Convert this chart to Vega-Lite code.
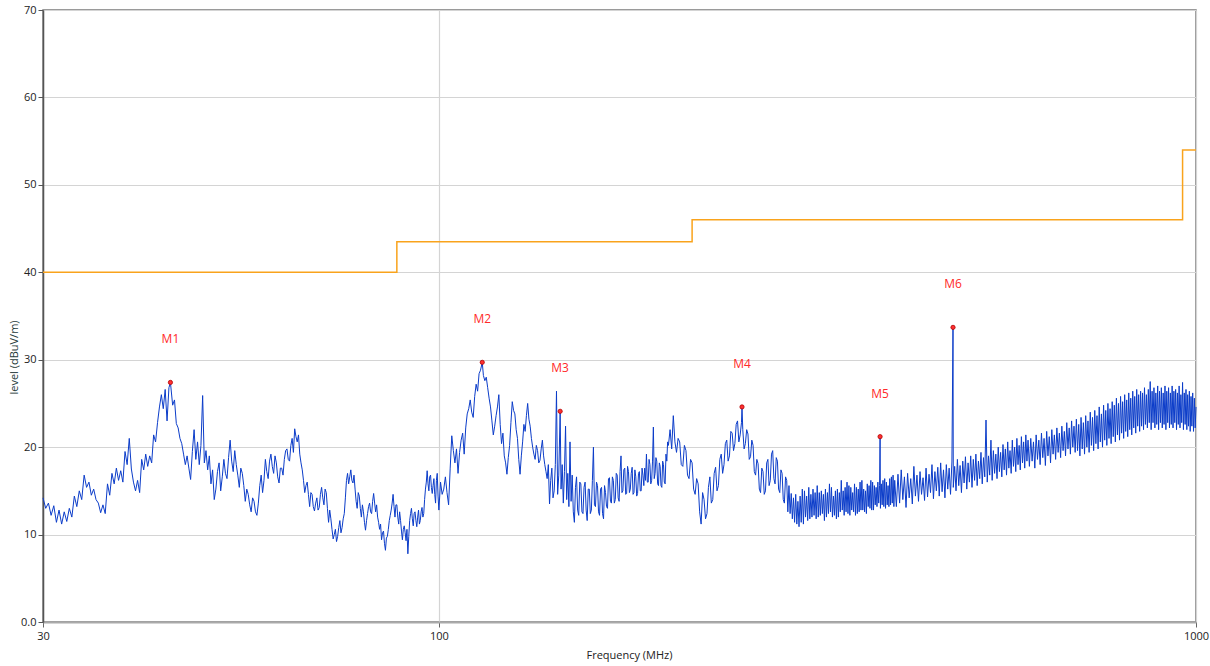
{
  "$schema": "https://vega.github.io/schema/vega-lite/v6.json",
  "width": 1153,
  "height": 612,
  "autosize": {"type": "none"},
  "padding": {"left": 43, "top": 10, "right": 14, "bottom": 44},
  "background": "#ffffff",
  "config": {
    "view": {"stroke": "#7a7a7a", "strokeWidth": 1.5},
    "font": "Open Sans"
  },
  "datasets": {
    "limit": [
      {"f": 30, "v": 40},
      {"f": 88, "v": 43.5},
      {"f": 216, "v": 46},
      {"f": 960, "v": 54},
      {"f": 1000, "v": 54}
    ],
    "markers": [
      {"f": 44.2, "v": 27.4, "m": "M1"},
      {"f": 114.1, "v": 29.7, "m": "M2"},
      {"f": 144.6, "v": 24.1, "m": "M3"},
      {"f": 251.4, "v": 24.6, "m": "M4"},
      {"f": 382.6, "v": 21.2, "m": "M5"},
      {"f": 477.6, "v": 33.7, "m": "M6"}
    ],
    "trace": [
      {"f":30,"v":14.2},{"f":30.25,"v":13.0},{"f":30.5,"v":13.6},{"f":30.75,"v":12.2},{"f":31,"v":13.3},{"f":31.25,"v":11.4},{"f":31.5,"v":12.8},{"f":31.75,"v":11.2},
      {"f":32,"v":12.6},{"f":32.25,"v":11.5},{"f":32.5,"v":13.0},{"f":32.75,"v":12.0},{"f":33,"v":14.4},{"f":33.25,"v":13.2},{"f":33.5,"v":15.0},{"f":33.75,"v":14.0},
      {"f":34,"v":16.8},{"f":34.25,"v":15.4},{"f":34.5,"v":16.0},{"f":34.75,"v":14.5},{"f":35,"v":15.2},{"f":35.25,"v":14.0},{"f":35.5,"v":13.6},{"f":35.75,"v":12.5},
      {"f":36,"v":13.4},{"f":36.25,"v":12.4},{"f":36.5,"v":15.8},{"f":36.75,"v":14.5},{"f":37,"v":17.0},{"f":37.25,"v":15.8},{"f":37.5,"v":17.6},{"f":37.75,"v":16.2},
      {"f":38,"v":17.3},{"f":38.25,"v":16.0},{"f":38.5,"v":19.5},{"f":38.75,"v":18.0},{"f":39,"v":21.0},{"f":39.25,"v":17.5},{"f":39.5,"v":16.0},{"f":39.75,"v":15.0},
      {"f":40,"v":16.2},{"f":40.25,"v":14.8},{"f":40.5,"v":18.6},{"f":40.75,"v":17.4},{"f":41,"v":19.2},{"f":41.25,"v":17.8},{"f":41.5,"v":19.0},{"f":41.75,"v":18.2},
      {"f":42,"v":21.4},{"f":42.25,"v":20.6},{"f":42.5,"v":22.8},{"f":42.75,"v":24.6},{"f":43,"v":26.0},{"f":43.25,"v":24.4},{"f":43.5,"v":26.6},{"f":43.75,"v":23.0},
      {"f":44,"v":26.8},{"f":44.2,"v":27.4},{"f":44.5,"v":24.8},{"f":44.75,"v":25.4},{"f":45,"v":22.7},{"f":45.25,"v":22.2},{"f":45.5,"v":21.0},{"f":45.75,"v":20.4},
      {"f":46,"v":19.2},{"f":46.25,"v":18.0},{"f":46.5,"v":19.0},{"f":46.75,"v":17.6},{"f":47,"v":16.3},{"f":47.25,"v":19.5},{"f":47.5,"v":22.0},{"f":47.75,"v":18.6},
      {"f":48,"v":20.6},{"f":48.25,"v":18.0},{"f":48.5,"v":20.2},{"f":48.75,"v":25.9},{"f":49,"v":18.2},{"f":49.25,"v":19.6},{"f":49.5,"v":17.4},{"f":49.75,"v":19.0},
      {"f":50,"v":15.8},{"f":50.25,"v":17.4},{"f":50.5,"v":14.0},{"f":50.75,"v":15.2},{"f":51,"v":17.2},{"f":51.25,"v":18.2},{"f":51.5,"v":15.0},{"f":51.75,"v":16.6},
      {"f":52,"v":18.6},{"f":52.25,"v":17.0},{"f":52.5,"v":16.4},{"f":52.75,"v":18.8},{"f":53,"v":20.8},{"f":53.25,"v":18.4},{"f":53.5,"v":17.2},{"f":53.75,"v":19.6},
      {"f":54,"v":18.0},{"f":54.25,"v":16.8},{"f":54.5,"v":15.4},{"f":54.75,"v":17.6},{"f":55,"v":17.0},{"f":55.25,"v":15.6},{"f":55.5,"v":13.8},{"f":55.75,"v":15.2},
      {"f":56,"v":14.6},{"f":56.25,"v":13.4},{"f":56.5,"v":12.6},{"f":56.75,"v":14.2},{"f":57,"v":13.8},{"f":57.25,"v":12.6},{"f":57.5,"v":12.2},{"f":57.75,"v":13.6},
      {"f":58,"v":15.6},{"f":58.25,"v":16.8},{"f":58.5,"v":14.8},{"f":58.75,"v":16.2},{"f":59,"v":18.6},{"f":59.25,"v":17.2},{"f":59.5,"v":16.4},{"f":59.75,"v":18.4},
      {"f":60,"v":19.2},{"f":60.25,"v":17.8},{"f":60.5,"v":17.0},{"f":60.75,"v":19.0},{"f":61,"v":18.2},{"f":61.25,"v":16.6},{"f":61.5,"v":15.9},{"f":61.75,"v":17.6},
      {"f":62,"v":17.6},{"f":62.25,"v":16.8},{"f":62.5,"v":18.6},{"f":62.75,"v":19.6},{"f":63,"v":19.8},{"f":63.25,"v":18.6},{"f":63.5,"v":18.4},{"f":63.75,"v":20.2},
      {"f":64,"v":21.0},{"f":64.25,"v":19.4},{"f":64.5,"v":22.1},{"f":64.75,"v":21.2},{"f":65,"v":20.6},{"f":65.25,"v":21.4},{"f":65.5,"v":19.2},{"f":65.75,"v":18.2},
      {"f":66,"v":17.4},{"f":66.25,"v":16.2},{"f":66.5,"v":14.8},{"f":66.75,"v":15.6},{"f":67,"v":16.0},{"f":67.25,"v":14.6},{"f":67.5,"v":13.2},{"f":67.75,"v":14.8},
      {"f":68,"v":14.6},{"f":68.25,"v":13.2},{"f":68.5,"v":12.7},{"f":68.75,"v":13.6},{"f":69,"v":14.2},{"f":69.25,"v":12.8},{"f":69.5,"v":13.1},{"f":69.75,"v":14.6},
      {"f":70,"v":15.4},{"f":70.25,"v":14.2},{"f":70.5,"v":13.4},{"f":70.75,"v":15.2},{"f":71,"v":14.8},{"f":71.25,"v":13.0},{"f":71.5,"v":11.4},{"f":71.75,"v":12.8},
      {"f":72,"v":11.8},{"f":72.25,"v":10.6},{"f":72.5,"v":9.5},{"f":72.75,"v":10.0},{"f":73,"v":10.6},{"f":73.25,"v":9.2},{"f":73.5,"v":9.8},{"f":73.75,"v":10.8},
      {"f":74,"v":11.6},{"f":74.25,"v":10.2},{"f":74.5,"v":10.8},{"f":74.75,"v":11.8},{"f":75,"v":12.4},{"f":75.25,"v":14.2},{"f":75.5,"v":16.2},{"f":75.75,"v":17.0},
      {"f":76,"v":15.8},{"f":76.25,"v":16.6},{"f":76.5,"v":17.4},{"f":76.75,"v":16.2},{"f":77,"v":15.9},{"f":77.25,"v":16.8},{"f":77.5,"v":15.2},{"f":77.75,"v":13.8},
      {"f":78,"v":13.0},{"f":78.25,"v":14.8},{"f":78.5,"v":14.4},{"f":78.75,"v":13.0},{"f":79,"v":12.0},{"f":79.25,"v":13.4},{"f":79.5,"v":12.6},{"f":79.75,"v":11.4},
      {"f":80,"v":10.5},{"f":80.25,"v":11.6},{"f":80.5,"v":12.4},{"f":80.75,"v":13.2},{"f":81,"v":13.6},{"f":81.25,"v":12.6},{"f":81.5,"v":12.4},{"f":81.75,"v":13.8},
      {"f":82,"v":14.7},{"f":82.25,"v":13.6},{"f":82.5,"v":12.6},{"f":82.75,"v":13.4},{"f":83,"v":12.0},{"f":83.25,"v":11.4},{"f":83.5,"v":10.6},{"f":83.75,"v":11.2},
      {"f":84,"v":9.4},{"f":84.25,"v":10.2},{"f":84.5,"v":10.4},{"f":84.75,"v":9.0},{"f":85,"v":8.2},{"f":85.25,"v":9.6},{"f":85.5,"v":9.8},{"f":85.75,"v":10.6},
      {"f":86,"v":11.6},{"f":86.25,"v":12.2},{"f":86.5,"v":12.8},{"f":86.75,"v":13.6},{"f":87,"v":14.6},{"f":87.25,"v":13.2},{"f":87.5,"v":12.0},{"f":87.75,"v":13.4},
      {"f":88,"v":13.4},{"f":88.25,"v":12.0},{"f":88.5,"v":11.2},{"f":88.75,"v":12.6},{"f":89,"v":11.6},{"f":89.25,"v":10.4},{"f":89.5,"v":9.4},{"f":89.75,"v":10.6},
      {"f":90,"v":11.0},{"f":90.25,"v":10.2},{"f":90.5,"v":9.3},{"f":90.75,"v":10.6},{"f":91,"v":7.8},{"f":91.25,"v":9.8},{"f":91.5,"v":11.6},{"f":91.75,"v":12.4},
      {"f":92,"v":13.0},{"f":92.25,"v":11.8},{"f":92.5,"v":11.0},{"f":92.75,"v":12.4},{"f":93,"v":12.6},{"f":93.25,"v":11.6},{"f":93.5,"v":10.9},{"f":93.75,"v":12.0},
      {"f":94,"v":12.8},{"f":94.25,"v":11.2},{"f":94.5,"v":11.6},{"f":94.75,"v":12.6},{"f":95,"v":13.1},{"f":95.25,"v":12.0},{"f":95.5,"v":12.4},{"f":95.75,"v":14.0},
      {"f":96,"v":15.2},{"f":96.25,"v":16.0},{"f":96.5,"v":17.3},{"f":96.75,"v":15.8},{"f":97,"v":15.0},{"f":97.25,"v":16.6},{"f":97.5,"v":16.8},{"f":97.75,"v":15.4},
      {"f":98,"v":14.7},{"f":98.25,"v":15.6},{"f":98.5,"v":16.4},{"f":98.75,"v":14.6},{"f":99,"v":13.6},{"f":99.25,"v":16.2},{"f":99.5,"v":17.0},{"f":99.75,"v":14.4},
      {"f":100,"v":12.8},{"f":100.5,"v":16.0},{"f":101,"v":14.6},{"f":101.5,"v":15.2},{"f":102,"v":16.6},{"f":102.5,"v":14.8},{"f":103,"v":13.4},{"f":103.5,"v":17.6},
      {"f":104,"v":21.3},{"f":104.5,"v":19.6},{"f":105,"v":18.2},{"f":105.5,"v":19.8},{"f":106,"v":17.0},{"f":106.5,"v":19.4},{"f":107,"v":20.8},{"f":107.5,"v":21.6},
      {"f":108,"v":19.2},{"f":108.5,"v":22.2},{"f":109,"v":23.8},{"f":109.5,"v":24.4},{"f":110,"v":25.4},{"f":110.5,"v":24.0},{"f":111,"v":23.4},{"f":111.5,"v":25.8},
      {"f":112,"v":27.2},{"f":112.5,"v":26.4},{"f":113,"v":28.4},{"f":113.5,"v":28.8},{"f":114.1,"v":29.7},{"f":114.5,"v":28.2},{"f":115,"v":27.6},{"f":115.5,"v":28.0},
      {"f":116,"v":26.8},{"f":116.5,"v":25.6},{"f":117,"v":24.6},{"f":117.5,"v":23.0},{"f":118,"v":21.4},{"f":118.5,"v":22.4},{"f":119,"v":23.6},{"f":119.5,"v":24.6},
      {"f":120,"v":26.0},{"f":120.5,"v":22.6},{"f":121,"v":20.4},{"f":121.5,"v":21.6},{"f":122,"v":19.0},{"f":122.5,"v":18.2},{"f":123,"v":16.9},{"f":123.5,"v":18.8},
      {"f":124,"v":20.2},{"f":124.5,"v":22.8},{"f":125,"v":25.2},{"f":125.5,"v":24.2},{"f":126,"v":23.8},{"f":126.5,"v":22.0},{"f":127,"v":21.0},{"f":127.5,"v":18.6},
      {"f":128,"v":16.9},{"f":128.5,"v":19.0},{"f":129,"v":20.6},{"f":129.5,"v":22.6},{"f":130,"v":21.8},{"f":130.5,"v":23.6},{"f":131,"v":25.0},{"f":131.5,"v":23.2},
      {"f":132,"v":22.4},{"f":132.5,"v":21.0},{"f":133,"v":20.0},{"f":133.5,"v":19.2},{"f":134,"v":18.6},{"f":134.5,"v":20.2},{"f":135,"v":19.6},{"f":135.5,"v":18.2},
      {"f":136,"v":18.5},{"f":136.5,"v":19.8},{"f":137,"v":20.8},{"f":137.5,"v":19.0},{"f":138,"v":18.0},{"f":138.5,"v":17.2},
      {"f":139,"v":16.4},{"f":139.5,"v":18.0},{"f":140,"v":13.5},{"f":140.5,"v":16.2},{"f":141,"v":17.6},{"f":141.5,"v":14.2},{"f":142,"v":15.0},{"f":142.5,"v":18.0},
      {"f":143,"v":26.4},{"f":143.5,"v":14.6},{"f":144,"v":16.8},{"f":144.6,"v":24.1},{"f":145,"v":15.2},{"f":145.5,"v":18.0},{"f":146,"v":13.6},{"f":146.5,"v":17.2},
      {"f":147,"v":22.4},{"f":147.5,"v":14.0},{"f":148,"v":17.0},{"f":148.5,"v":13.2},{"f":149,"v":20.6},{"f":149.5,"v":13.8},{"f":150,"v":16.8},{"f":150.5,"v":12.6},
      {"f":151,"v":11.4},{"f":151.5,"v":15.4},{"f":152,"v":16.6},{"f":152.5,"v":12.8},{"f":153,"v":12.2},{"f":153.5,"v":16.0},{"f":154,"v":15.8},{"f":154.5,"v":12.6},
      {"f":155,"v":12.4},{"f":155.5,"v":15.4},{"f":156,"v":16.0},{"f":156.5,"v":12.8},{"f":157,"v":11.6},{"f":157.5,"v":15.2},{"f":158,"v":15.2},{"f":158.5,"v":12.4},
      {"f":159,"v":12.8},{"f":159.5,"v":16.2},{"f":160,"v":20.0},{"f":160.5,"v":13.4},{"f":161,"v":13.2},{"f":161.5,"v":16.0},{"f":162,"v":15.6},{"f":162.5,"v":12.6},
      {"f":163,"v":12.2},{"f":163.5,"v":15.2},{"f":164,"v":15.4},{"f":164.5,"v":12.4},{"f":165,"v":11.8},{"f":165.5,"v":15.6},{"f":166,"v":14.8},{"f":166.5,"v":13.2},
      {"f":167,"v":13.0},{"f":167.5,"v":16.4},{"f":168,"v":16.5},{"f":168.5,"v":13.8},{"f":169,"v":13.6},{"f":169.5,"v":16.6},{"f":170,"v":16.2},{"f":170.5,"v":13.6},
      {"f":171,"v":14.0},{"f":171.5,"v":17.0},{"f":172,"v":16.8},{"f":172.5,"v":14.2},{"f":173,"v":13.8},{"f":173.5,"v":17.2},{"f":174,"v":19.0},{"f":174.5,"v":14.8},
      {"f":175,"v":15.0},{"f":175.5,"v":17.4},{"f":176,"v":17.6},{"f":176.5,"v":14.6},{"f":177,"v":14.7},{"f":177.5,"v":17.8},{"f":178,"v":17.2},{"f":178.5,"v":14.8},
      {"f":179,"v":15.2},{"f":179.5,"v":17.0},{"f":180,"v":17.7},{"f":180.5,"v":14.6},{"f":181,"v":14.8},{"f":181.5,"v":17.4},{"f":182,"v":16.6},{"f":182.5,"v":14.4},
      {"f":183,"v":14.7},{"f":183.5,"v":17.0},{"f":184,"v":17.2},{"f":184.5,"v":15.0},{"f":185,"v":15.0},{"f":185.5,"v":17.6},{"f":186,"v":16.8},{"f":186.5,"v":15.6},
      {"f":187,"v":17.6},{"f":187.5,"v":16.2},{"f":188,"v":19.2},{"f":188.5,"v":16.0},{"f":189,"v":16.0},{"f":189.5,"v":18.6},{"f":190,"v":18.0},{"f":190.5,"v":15.8},
      {"f":191,"v":16.2},{"f":191.5,"v":18.4},{"f":192,"v":22.3},{"f":192.5,"v":16.4},{"f":193,"v":17.0},{"f":193.5,"v":18.8},{"f":194,"v":18.4},{"f":194.5,"v":15.8},
      {"f":195,"v":15.6},{"f":195.5,"v":18.2},{"f":196,"v":17.8},{"f":196.5,"v":15.6},{"f":197,"v":15.4},{"f":197.5,"v":18.4},{"f":198,"v":18.0},{"f":198.5,"v":16.0},
      {"f":199,"v":15.8},{"f":199.5,"v":19.2},{"f":200,"v":18.4},{"f":200.5,"v":20.6},
      {"f":201,"v":20.2},{"f":202,"v":22.0},{"f":203,"v":19.8},{"f":204,"v":23.6},{"f":205,"v":20.6},{"f":206,"v":19.4},{"f":207,"v":21.0},{"f":208,"v":20.6},
      {"f":209,"v":18.0},{"f":210,"v":17.8},{"f":211,"v":20.2},{"f":212,"v":19.6},{"f":213,"v":16.8},{"f":214,"v":16.4},{"f":215,"v":18.6},{"f":216,"v":18.2},
      {"f":217,"v":15.2},{"f":218,"v":14.6},{"f":219,"v":16.4},{"f":220,"v":15.8},{"f":221,"v":12.6},{"f":222,"v":11.2},{"f":223,"v":14.8},{"f":224,"v":14.0},
      {"f":225,"v":11.8},{"f":226,"v":12.4},{"f":227,"v":15.4},{"f":228,"v":16.6},{"f":229,"v":13.6},{"f":230,"v":14.0},{"f":231,"v":17.0},{"f":232,"v":17.7},
      {"f":233,"v":15.0},{"f":234,"v":15.6},{"f":235,"v":18.6},{"f":236,"v":19.2},{"f":237,"v":17.0},{"f":238,"v":18.0},{"f":239,"v":20.4},{"f":240,"v":20.8},
      {"f":241,"v":18.4},{"f":242,"v":19.0},{"f":243,"v":21.8},{"f":244,"v":21.6},{"f":245,"v":19.6},{"f":246,"v":20.4},{"f":247,"v":22.6},{"f":248,"v":23.0},
      {"f":249,"v":20.6},{"f":250,"v":21.4},{"f":251,"v":22.8},{"f":251.4,"v":24.6},{"f":252,"v":22.0},{"f":253,"v":19.8},{"f":254,"v":20.4},{"f":255,"v":22.0},
      {"f":256,"v":21.5},{"f":257,"v":18.6},{"f":258,"v":18.9},{"f":259,"v":20.8},{"f":260,"v":20.2},{"f":261,"v":17.2},{"f":262,"v":16.8},{"f":263,"v":18.6},
      {"f":264,"v":18.1},{"f":265,"v":15.2},{"f":266,"v":14.8},{"f":267,"v":17.6},{"f":268,"v":17.2},{"f":269,"v":14.6},{"f":270,"v":15.0},{"f":271,"v":18.2},
      {"f":272,"v":18.6},{"f":273,"v":15.6},{"f":274,"v":16.2},{"f":275,"v":19.2},{"f":276,"v":19.6},{"f":277,"v":16.4},{"f":278,"v":15.8},{"f":279,"v":18.8},
      {"f":280,"v":18.4},{"f":281,"v":15.2},{"f":282,"v":14.8},{"f":283,"v":17.4},{"f":284,"v":17.0},{"f":285,"v":14.0},{"f":286,"v":13.6},{"f":287,"v":16.6},
      {"f":288,"v":16.2},{"f":289,"v":12.6},{"f":290,"v":15.6},{"f":291,"v":12.4},{"f":292,"v":14.7},{"f":293,"v":11.8},{"f":294,"v":14.2},{"f":295,"v":11.4},
      {"f":296,"v":14.6},{"f":297,"v":11.2},{"f":298,"v":13.8},{"f":299,"v":10.9},{"f":300,"v":14.4},{"f":301,"v":11.4},{"f":302,"v":15.2},{"f":303,"v":11.2},
      {"f":304,"v":15.0},{"f":305,"v":12.0},{"f":306,"v":14.4},{"f":307,"v":11.6},{"f":308,"v":15.4},{"f":309,"v":11.8},{"f":310,"v":14.6},{"f":311,"v":12.0},
      {"f":312,"v":15.2},{"f":313,"v":12.2},{"f":314,"v":14.8},{"f":315,"v":11.8},{"f":316,"v":15.6},{"f":317,"v":12.0},{"f":318,"v":14.8},{"f":319,"v":12.2},
      {"f":320,"v":15.0},{"f":321,"v":12.4},{"f":322,"v":14.6},{"f":323,"v":11.6},{"f":324,"v":15.2},{"f":325,"v":12.0},{"f":326,"v":14.8},{"f":327,"v":12.4},
      {"f":328,"v":15.8},{"f":329,"v":12.6},{"f":330,"v":15.4},{"f":331,"v":12.0},{"f":332,"v":14.4},{"f":333,"v":12.2},{"f":334,"v":15.0},{"f":335,"v":11.8},
      {"f":336,"v":15.2},{"f":337,"v":12.0},{"f":338,"v":14.8},{"f":339,"v":12.6},{"f":340,"v":16.2},{"f":341,"v":12.8},{"f":342,"v":15.0},{"f":343,"v":12.2},
      {"f":344,"v":15.4},{"f":345,"v":12.6},{"f":346,"v":16.0},{"f":347,"v":12.4},{"f":348,"v":15.6},{"f":349,"v":12.2},{"f":350,"v":15.4},{"f":351,"v":12.8},
      {"f":352,"v":14.8},{"f":353,"v":12.6},{"f":354,"v":15.8},{"f":355,"v":12.2},{"f":356,"v":15.4},{"f":357,"v":12.4},{"f":358,"v":15.2},{"f":359,"v":12.6},
      {"f":360,"v":16.0},{"f":361,"v":12.8},{"f":362,"v":16.2},{"f":363,"v":12.8},{"f":364,"v":15.2},{"f":365,"v":12.6},{"f":366,"v":15.0},{"f":367,"v":12.4},
      {"f":368,"v":15.8},{"f":369,"v":13.2},{"f":370,"v":15.6},{"f":371,"v":13.0},{"f":372,"v":16.2},{"f":373,"v":12.8},{"f":374,"v":16.0},{"f":375,"v":12.8},
      {"f":376,"v":15.6},{"f":377,"v":13.4},{"f":378,"v":15.4},{"f":379,"v":13.2},{"f":380,"v":16.0},{"f":381,"v":13.6},{"f":382,"v":15.6},{"f":382.6,"v":21.2},
      {"f":383,"v":13.0},{"f":384,"v":15.8},{"f":385,"v":13.4},{"f":386,"v":16.2},{"f":387,"v":13.2},{"f":388,"v":16.4},{"f":389,"v":13.0},{"f":390,"v":16.0},
      {"f":391,"v":13.4},{"f":392,"v":15.6},{"f":393,"v":13.2},{"f":394,"v":16.4},{"f":395,"v":13.4},{"f":396,"v":16.6},{"f":397,"v":13.6},{"f":398,"v":16.8},
      {"f":399,"v":13.2},{"f":400,"v":16.2},
      {"f":402,"v":13.2},{"f":404,"v":16.9},{"f":406,"v":13.6},{"f":408,"v":17.4},{"f":410,"v":14.0},{"f":412,"v":16.6},{"f":414,"v":13.1},{"f":416,"v":17.0},
      {"f":418,"v":14.2},{"f":420,"v":16.4},{"f":422,"v":13.5},{"f":424,"v":17.8},{"f":426,"v":14.4},{"f":428,"v":16.8},{"f":430,"v":13.8},{"f":432,"v":17.2},
      {"f":434,"v":14.6},{"f":436,"v":16.5},{"f":438,"v":13.9},{"f":440,"v":17.6},{"f":442,"v":14.3},{"f":444,"v":16.9},{"f":446,"v":14.8},{"f":448,"v":18.0},
      {"f":450,"v":14.1},{"f":452,"v":17.2},{"f":454,"v":15.0},{"f":456,"v":17.7},{"f":458,"v":14.4},{"f":460,"v":18.2},{"f":462,"v":14.9},{"f":464,"v":17.4},
      {"f":466,"v":14.2},{"f":468,"v":18.0},{"f":470,"v":15.2},{"f":472,"v":17.6},{"f":474,"v":14.6},{"f":476,"v":18.3},{"f":477.6,"v":33.7},{"f":478,"v":15.4},
      {"f":480,"v":17.8},{"f":482,"v":15.0},{"f":484,"v":18.6},{"f":486,"v":15.6},{"f":488,"v":17.9},{"f":490,"v":14.8},{"f":492,"v":18.4},{"f":494,"v":15.9},
      {"f":496,"v":18.9},{"f":498,"v":15.2},{"f":500,"v":18.2},{"f":502,"v":16.0},{"f":504,"v":19.0},{"f":506,"v":15.4},{"f":508,"v":18.6},{"f":510,"v":16.2},
      {"f":512,"v":19.2},{"f":514,"v":15.6},{"f":516,"v":18.4},{"f":518,"v":16.4},{"f":520,"v":19.4},{"f":522,"v":15.8},{"f":524,"v":18.8},{"f":526,"v":16.6},
      {"f":528,"v":23.1},{"f":530,"v":16.0},{"f":532,"v":19.0},{"f":534,"v":16.8},{"f":536,"v":20.8},{"f":538,"v":16.2},{"f":540,"v":19.6},{"f":542,"v":17.0},
      {"f":544,"v":19.2},{"f":546,"v":16.4},{"f":548,"v":20.0},{"f":550,"v":17.2},{"f":552,"v":19.4},{"f":554,"v":16.6},{"f":556,"v":20.3},{"f":558,"v":17.4},
      {"f":560,"v":19.8},{"f":562,"v":16.8},{"f":564,"v":20.6},{"f":566,"v":17.6},{"f":568,"v":19.6},{"f":570,"v":17.0},{"f":572,"v":20.8},{"f":574,"v":17.8},
      {"f":576,"v":20.0},{"f":578,"v":17.2},{"f":580,"v":21.0},{"f":582,"v":18.0},{"f":584,"v":20.2},{"f":586,"v":17.4},{"f":588,"v":21.2},{"f":590,"v":18.2},
      {"f":592,"v":20.6},{"f":594,"v":17.6},{"f":596,"v":21.4},{"f":598,"v":18.4},{"f":600,"v":20.8},
      {"f":602.5,"v":17.8},{"f":605,"v":21.0},{"f":607.5,"v":18.4},{"f":610,"v":20.6},{"f":612.5,"v":17.6},{"f":615,"v":21.4},{"f":617.5,"v":18.6},{"f":620,"v":20.8},
      {"f":622.5,"v":18.0},{"f":625,"v":21.6},{"f":627.5,"v":18.8},{"f":630,"v":21.0},{"f":632.5,"v":17.9},{"f":635,"v":21.8},{"f":637.5,"v":19.0},{"f":640,"v":21.2},
      {"f":642.5,"v":18.2},{"f":645,"v":22.0},{"f":647.5,"v":19.2},{"f":650,"v":21.4},{"f":652.5,"v":18.6},{"f":655,"v":22.2},{"f":657.5,"v":19.4},{"f":660,"v":21.6},
      {"f":662.5,"v":18.8},{"f":665,"v":22.4},{"f":667.5,"v":19.6},{"f":670,"v":21.8},{"f":672.5,"v":19.0},{"f":675,"v":22.8},{"f":677.5,"v":19.8},{"f":680,"v":22.2},
      {"f":682.5,"v":19.2},{"f":685,"v":23.0},{"f":687.5,"v":20.0},{"f":690,"v":22.4},{"f":692.5,"v":19.4},{"f":695,"v":23.2},{"f":697.5,"v":19.6},{"f":700,"v":22.6},
      {"f":702.5,"v":19.0},{"f":705,"v":23.4},{"f":707.5,"v":19.8},{"f":710,"v":22.8},{"f":712.5,"v":19.2},{"f":715,"v":23.6},{"f":717.5,"v":20.0},{"f":720,"v":23.0},
      {"f":722.5,"v":19.4},{"f":725,"v":24.0},{"f":727.5,"v":20.2},{"f":730,"v":23.4},{"f":732.5,"v":19.6},{"f":735,"v":24.2},{"f":737.5,"v":20.4},{"f":740,"v":23.6},
      {"f":742.5,"v":19.8},{"f":745,"v":24.6},{"f":747.5,"v":20.6},{"f":750,"v":23.8},{"f":752.5,"v":20.0},{"f":755,"v":24.8},{"f":757.5,"v":20.8},{"f":760,"v":24.2},
      {"f":762.5,"v":20.2},{"f":765,"v":25.0},{"f":767.5,"v":21.0},{"f":770,"v":24.4},{"f":772.5,"v":20.4},{"f":775,"v":25.2},{"f":777.5,"v":21.2},{"f":780,"v":24.8},
      {"f":782.5,"v":20.6},{"f":785,"v":25.6},{"f":787.5,"v":21.4},{"f":790,"v":25.0},{"f":792.5,"v":20.8},{"f":795,"v":25.8},{"f":797.5,"v":21.6},{"f":800,"v":25.2},
      {"f":802.5,"v":21.0},{"f":805,"v":26.0},{"f":807.5,"v":21.8},{"f":810,"v":25.4},{"f":812.5,"v":21.2},{"f":815,"v":26.2},{"f":817.5,"v":22.0},{"f":820,"v":25.6},
      {"f":822.5,"v":21.4},{"f":825,"v":26.4},{"f":827.5,"v":22.2},{"f":830,"v":25.8},{"f":832.5,"v":21.6},{"f":835,"v":26.6},{"f":837.5,"v":22.4},{"f":840,"v":26.0},
      {"f":842.5,"v":21.8},{"f":845,"v":26.4},{"f":847.5,"v":22.4},{"f":850,"v":26.2},{"f":852.5,"v":22.0},{"f":855,"v":26.8},{"f":857.5,"v":22.6},{"f":860,"v":26.0},
      {"f":862.5,"v":22.2},{"f":865,"v":26.6},{"f":867.5,"v":22.8},{"f":870,"v":27.5},{"f":872.5,"v":22.0},{"f":875,"v":26.4},{"f":877.5,"v":22.8},{"f":880,"v":26.8},
      {"f":882.5,"v":22.2},{"f":885,"v":26.2},{"f":887.5,"v":22.6},{"f":890,"v":27.0},{"f":892.5,"v":22.0},{"f":895,"v":26.4},{"f":897.5,"v":22.8},{"f":900,"v":26.8},
      {"f":902.5,"v":22.2},{"f":905,"v":26.2},{"f":907.5,"v":22.6},{"f":910,"v":27.0},{"f":912.5,"v":22.0},{"f":915,"v":26.4},{"f":917.5,"v":22.8},{"f":920,"v":26.8},
      {"f":922.5,"v":22.2},{"f":925,"v":26.2},{"f":927.5,"v":22.6},{"f":930,"v":27.0},{"f":932.5,"v":22.2},{"f":935,"v":26.4},{"f":937.5,"v":22.8},{"f":940,"v":26.6},
      {"f":942.5,"v":22.0},{"f":945,"v":26.2},{"f":947.5,"v":22.6},{"f":950,"v":27.0},{"f":952.5,"v":22.2},{"f":955,"v":26.0},{"f":957.5,"v":22.8},{"f":960,"v":27.4},
      {"f":962.5,"v":22.0},{"f":965,"v":26.2},{"f":967.5,"v":22.6},{"f":970,"v":26.6},{"f":972.5,"v":22.0},{"f":975,"v":26.0},{"f":977.5,"v":22.4},{"f":980,"v":26.4},
      {"f":982.5,"v":21.8},{"f":985,"v":25.8},{"f":987.5,"v":22.4},{"f":990,"v":26.2},{"f":992.5,"v":21.8},{"f":995,"v":25.6},{"f":997.5,"v":22.2},{"f":1000,"v":24.6}
    ]
  },
  "encoding": {
    "x": {
      "field": "f",
      "type": "quantitative",
      "scale": {"type": "log", "domain": [30, 1000], "nice": false},
      "axis": {
        "values": [30, 100, 1000],
        "format": "d",
        "labelFlush": false,
        "title": "Frequency (MHz)",
        "titleFont": "Open Sans",
        "titleFontSize": 11,
        "titleFontWeight": "normal",
        "titleColor": "#222222",
        "titleX": 586,
        "titleY": 33,
        "titleBaseline": "middle",
        "labelFont": "Open Sans",
        "labelFontSize": 11,
        "labelColor": "#222222",
        "labelPadding": 3,
        "grid": true,
        "gridColor": "#d4d4d4",
        "gridWidth": 1.2,
        "domainColor": "#aaaaaa",
        "domainWidth": 2,
        "tickColor": "#666666",
        "tickSize": 5
      }
    },
    "y": {
      "field": "v",
      "type": "quantitative",
      "scale": {"domain": [0, 70], "nice": false},
      "axis": {
        "values": [0, 10, 20, 30, 40, 50, 60, 70],
        "labelExpr": "datum.value == 0 ? '0.0' : datum.label",
        "labelFlush": false,
        "title": "level (dBuV/m)",
        "titleFont": "Open Sans",
        "titleFontSize": 11,
        "titleFontWeight": "normal",
        "titleColor": "#1e3a3a",
        "titleX": -29,
        "titleY": 347,
        "titleBaseline": "middle",
        "labelFont": "Open Sans",
        "labelFontSize": 11,
        "labelColor": "#222222",
        "labelPadding": 2,
        "grid": true,
        "gridColor": "#d4d4d4",
        "gridWidth": 1.2,
        "domainColor": "#555555",
        "domainWidth": 1.5,
        "tickColor": "#555555",
        "tickSize": 5
      }
    }
  },
  "layer": [
    {
      "data": {"name": "limit"},
      "mark": {"type": "line", "interpolate": "step-after", "color": "#f9a31c", "strokeWidth": 1.5},
      "encoding": {}
    },
    {
      "data": {"name": "trace"},
      "mark": {"type": "line", "color": "#0b3cc9", "strokeWidth": 1},
      "encoding": {}
    },
    {
      "data": {"name": "markers"},
      "mark": {"type": "point", "filled": true, "size": 18, "fill": "#ff3030", "stroke": "#b00000", "strokeWidth": 0.8, "opacity": 1},
      "encoding": {}
    },
    {
      "data": {"name": "markers"},
      "mark": {"type": "text", "dy": -43, "color": "#ff2a2a", "fontSize": 12, "font": "Open Sans", "baseline": "middle"},
      "encoding": {"text": {"field": "m"}}
    }
  ]
}
